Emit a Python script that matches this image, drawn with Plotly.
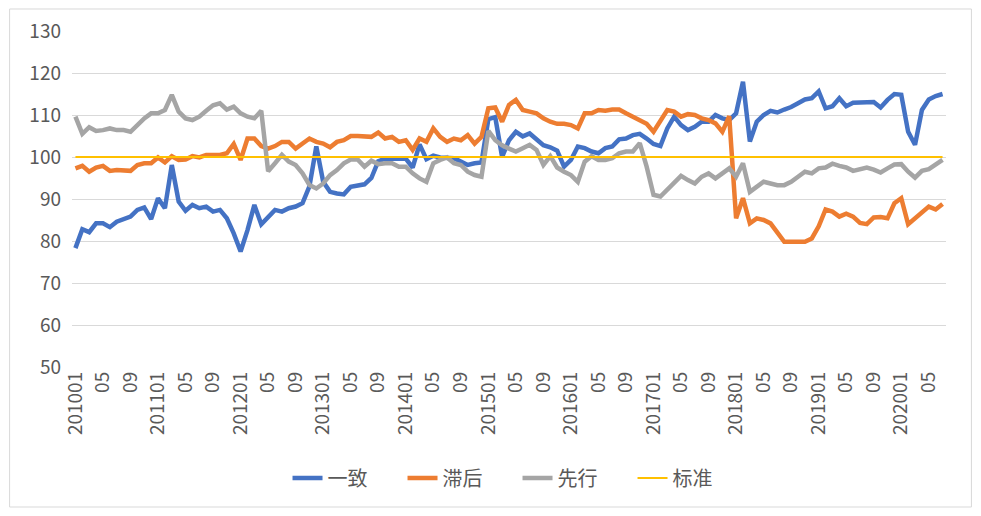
import plotly.graph_objects as go

# 月份 201001 ~ 202007
months = [f"{y}{m:02d}" for y in range(2010, 2021) for m in range(1, 13)][:127]

# x 轴标签：每 4 个月一个，年初显示完整年月
tick_vals = months[::4]
tick_text = [m if m.endswith("01") else m[4:] for m in tick_vals]

coincident = [
    78.3, 82.8, 82.1, 84.2, 84.2, 83.3, 84.6, 85.2, 85.8, 87.4,
    88.0, 85.2, 90.2, 87.8, 98.1, 89.4, 87.2, 88.6, 87.8, 88.2,
    87.0, 87.4, 85.4, 81.8, 77.5, 82.6, 88.6, 84.0, 85.8, 87.4,
    87.0, 87.8, 88.2, 89.0, 93.0, 102.5, 94.1, 91.7, 91.3, 91.1,
    92.9, 93.1, 93.5, 95.0, 99.0, 99.6, 99.6, 99.6, 99.6, 97.5,
    103.0, 99.5, 100.3, 99.9, 99.9, 99.7, 98.9, 98.1, 98.5, 98.7,
    109.0, 109.5, 100.0, 104.0, 106.0, 104.9, 105.6, 104.2, 102.8, 102.3,
    101.5, 97.7, 99.3, 102.5, 102.1, 101.3, 100.9, 102.1, 102.5, 104.2,
    104.4, 105.2, 105.5, 104.4, 103.1, 102.6, 106.8, 109.6, 107.6, 106.4,
    107.2, 108.4, 108.4, 110.0, 109.2, 108.8, 110.4, 117.9, 103.7, 108.4,
    110.0, 111.0, 110.6, 111.3, 111.9, 112.8, 113.7, 114.0, 115.6, 111.6,
    112.1, 114.0, 112.1, 112.9, 112.9, 112.9, 113.1, 111.8, 113.6, 115.0,
    114.8, 106.0, 102.9, 111.2, 113.7, 114.5, 115.0,
]

lagging = [
    97.3, 97.9, 96.5, 97.5, 97.9, 96.7, 96.9, 96.9, 96.7, 98.1,
    98.5, 98.5, 99.9, 98.7, 100.2, 99.3, 99.4, 100.2, 99.9, 100.5,
    100.5, 100.5, 100.9, 103.1, 99.3, 104.4, 104.4, 102.6, 102.0, 102.6,
    103.6, 103.6, 102.0, 103.2, 104.4, 103.6, 103.2, 102.3, 103.6, 104.0,
    105.0, 105.0, 105.0, 104.8, 105.8, 104.4, 104.8, 103.6, 104.0, 101.7,
    104.4, 103.6, 106.8, 104.8, 103.6, 104.4, 104.0, 105.2, 103.2, 104.8,
    111.6, 111.8, 108.4, 112.4, 113.6, 111.2, 110.8, 110.4, 109.2, 108.4,
    107.9, 107.9, 107.6, 106.8, 110.4, 110.4, 111.2, 111.0, 111.3, 111.3,
    110.4, 109.6, 108.8, 107.9, 106.0, 108.8, 111.2, 110.8, 109.6, 110.2,
    110.0, 109.2, 108.8, 108.0, 106.0, 109.7, 85.4, 90.2, 84.2, 85.4,
    85.0, 84.2, 81.8, 79.8, 79.8, 79.8, 79.8, 80.6, 83.5, 87.5,
    87.0, 85.8, 86.5, 85.8, 84.3, 84.0, 85.6, 85.7, 85.4, 89.0,
    90.2, 84.0, 85.4, 86.7, 88.2, 87.5, 88.8,
]

leading = [
    109.6, 105.5, 107.1, 106.2, 106.4, 106.8, 106.4, 106.4, 106.0, 107.6,
    109.2, 110.4, 110.4, 111.2, 114.8, 110.8, 109.2, 108.8, 109.6, 111.0,
    112.3, 112.8, 111.3, 112.0, 110.4, 109.6, 109.2, 111.0, 96.6, 98.5,
    100.5, 98.9, 98.1, 96.1, 93.3, 92.5, 93.7, 95.7, 96.9, 98.5,
    99.4, 99.4, 97.7, 99.1, 98.3, 98.5, 98.5, 97.7, 97.7, 96.1,
    94.9, 94.1, 98.5, 99.3, 99.9, 98.5, 98.1, 96.5, 95.7, 95.3,
    106.2, 104.0, 102.8, 102.0, 101.3, 102.1, 102.9, 101.7, 98.1, 100.2,
    97.5, 96.5, 95.7, 94.1, 98.9, 100.2, 99.3, 99.3, 99.7, 100.9,
    101.3, 101.3, 103.3, 97.7, 91.0, 90.6, 92.2, 93.7, 95.5, 94.5,
    93.7, 95.3, 96.1, 94.9, 96.1, 97.3, 95.3, 98.5, 91.7, 92.9,
    94.1, 93.7, 93.3, 93.3, 94.1, 95.3, 96.5, 96.1, 97.3, 97.5,
    98.4, 97.9, 97.5, 96.7, 97.0, 97.5, 97.0, 96.3, 97.3, 98.2,
    98.3, 96.5, 95.1, 96.7, 97.1, 98.2, 99.3,
]

standard = [100] * len(months)

FONT = "Noto Sans CJK SC"
series = [
    ("一致", coincident, "#4472C4", 4.5),
    ("滞后", lagging, "#ED7D31", 4.5),
    ("先行", leading, "#A5A5A5", 4.5),
    ("标准", standard, "#FFC000", 2),
]

fig = go.Figure()
for name, values, color, width in series:
    fig.add_trace(
        go.Scatter(
            x=months,
            y=values,
            mode="lines",
            name=name,
            line=dict(color=color, width=width),
        )
    )

# 外框（页面 body 自带 8px 边距，图尺寸相应缩小）
fig.add_shape(
    type="rect", xref="paper", yref="paper",
    x0=-0.0714, x1=1.0291, y0=-0.4167, y1=1.0655,
    line=dict(color="#D9D9D9", width=1), layer="below",
)

fig.update_layout(
    width=965,
    height=500,
    margin=dict(l=63.5, r=26.5, t=23, b=141),
    paper_bgcolor="white",
    plot_bgcolor="white",
    font=dict(family=FONT, size=19, color="#595959"),
    showlegend=True,
    legend=dict(
        orientation="h",
        xref="container", yref="container",
        x=0.528, xanchor="center",
        y=0.06, yanchor="middle",
        font=dict(size=20, color="#595959"),
        entrywidth=70,
        traceorder="normal",
    ),
    xaxis=dict(
        type="category",
        range=[-0.5, len(months) - 0.5],
        tickmode="array",
        tickvals=tick_vals,
        ticktext=tick_text,
        tickangle=-90,
        showgrid=False,
        showline=False,
        ticks="",
        automargin=False,
    ),
    yaxis=dict(
        range=[50, 130],
        dtick=10,
        showgrid=True,
        gridcolor="#D9D9D9",
        gridwidth=1,
        zeroline=False,
        showline=False,
        ticks="",
        ticklabelstandoff=10,
        automargin=False,
    ),
)

fig.write_html("out.html")
